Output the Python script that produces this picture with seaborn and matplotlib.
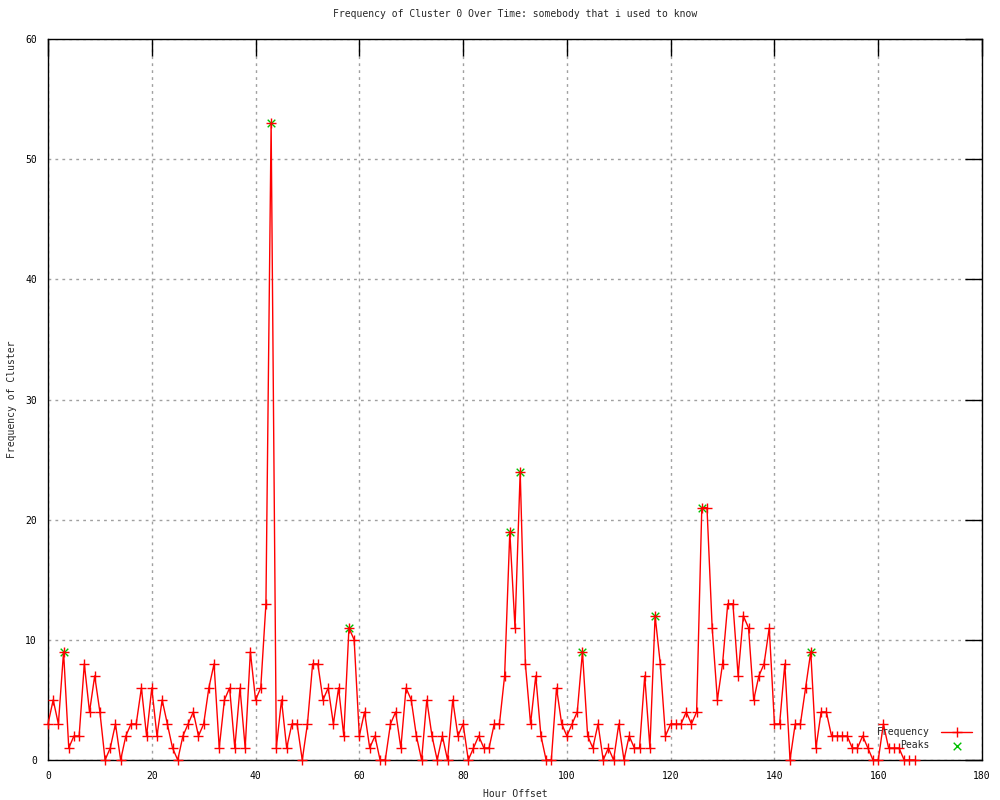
import numpy as np
import pandas as pd
import matplotlib
matplotlib.use("Agg")
import matplotlib.pyplot as plt
import seaborn as sns

# hourly counts for cluster 0
frequency = [3, 5, 3, 9, 1, 2, 2, 8, 4, 7,
             4, 0, 1, 3, 0, 2, 3, 3, 6, 2,
             6, 2, 5, 3, 1, 0, 2, 3, 4, 2,
             3, 6, 8, 1, 5, 6, 1, 6, 1, 9,
             5, 6, 13, 53, 1, 5, 1, 3, 3, 0,
             3, 8, 8, 5, 6, 3, 6, 2, 11, 10,
             2, 4, 1, 2, 0, 0, 3, 4, 1, 6,
             5, 2, 0, 5, 2, 0, 2, 0, 5, 2,
             3, 0, 1, 2, 1, 1, 3, 3, 7, 19,
             11, 24, 8, 3, 7, 2, 0, 0, 6, 3,
             2, 3, 4, 9, 2, 1, 3, 0, 1, 0,
             3, 0, 2, 1, 1, 7, 1, 12, 8, 2,
             3, 3, 3, 4, 3, 4, 21, 21, 11, 5,
             8, 13, 13, 7, 12, 11, 5, 7, 8, 11,
             3, 3, 8, 0, 3, 3, 6, 9, 1, 4,
             4, 2, 2, 2, 2, 1, 1, 2, 1, 0,
             0, 3, 1, 1, 1, 0, 0, 0]
hours = list(range(len(frequency)))
peak_hours = [3, 43, 58, 89, 91, 103, 117, 126, 147]
peak_values = [frequency[h] for h in peak_hours]

freq_df = pd.DataFrame({"hour": hours, "freq": frequency})
peak_df = pd.DataFrame({"hour": peak_hours, "freq": peak_values})

sns.set_theme(style="white")
plt.rcParams['font.family'] = ['DejaVu Sans Mono']
plt.rcParams['font.size'] = 7

fig = plt.figure(figsize=(10, 8), dpi=100)
ax = fig.add_axes([0.048, 0.05, 0.934, 0.90125])

sns.scatterplot(data=peak_df, x="hour", y="freq", ax=ax, marker="x",
                color="#00c000", s=30, linewidth=1, label="Peaks",
                zorder=2, clip_on=False)
sns.lineplot(data=freq_df, x="hour", y="freq", ax=ax, color="red",
             linewidth=1, marker="+", markersize=6.5, markeredgewidth=1,
             markeredgecolor="red", label="Frequency", zorder=3,
             clip_on=False)

ax.set_xlim(0, 180)
ax.set_ylim(0, 60)
ax.set_xticks(np.arange(0, 181, 20))
ax.set_yticks(np.arange(0, 61, 10))
ax.grid(True, color="#a0a0a0", linestyle=(0, (2, 3)), linewidth=1)
for sp in ax.spines.values():
    sp.set_color("black")
    sp.set_linewidth(1)
ax.tick_params(direction="in", length=12, width=1, top=True, right=True,
               labelsize=7, pad=8, colors="black")

ax.set_title("Frequency of Cluster 0 Over Time: somebody that i used to know",
             fontsize=7, pad=16)
ax.set_xlabel("Hour Offset", fontsize=7, labelpad=6)
ax.set_ylabel("Frequency of Cluster", fontsize=7, labelpad=6)

handles, labels = ax.get_legend_handles_labels()
order = [labels.index("Frequency"), labels.index("Peaks")]
ax.legend([handles[i] for i in order], [labels[i] for i in order],
          loc="lower right", frameon=False, markerfirst=False, fontsize=7,
          handlelength=3.2, handletextpad=1.2, labelspacing=0.3,
          borderaxespad=0.6)

fig.savefig("out.png", dpi=100)
